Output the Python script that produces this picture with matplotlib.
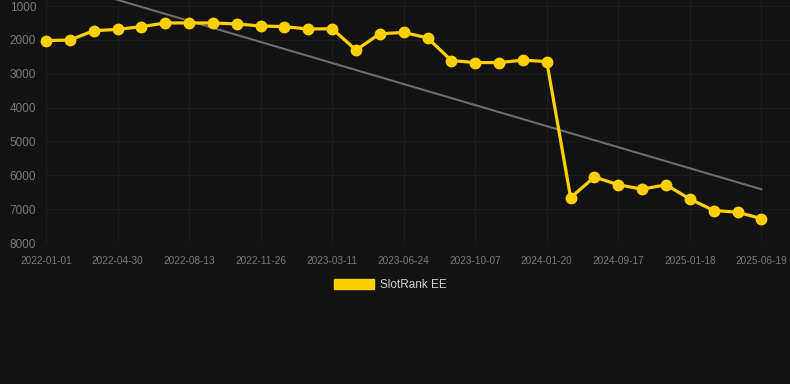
import numpy as np
import matplotlib.pyplot as plt
from matplotlib.patches import Patch

plt.rcParams['font.family'] = ['Liberation Sans', 'DejaVu Sans']

# rank per sample (lower is better)
ranks = [2020, 2005, 1730, 1690, 1610, 1500, 1500, 1500, 1530, 1590,
         1610, 1680, 1670, 2300, 1820, 1780, 1940, 2610, 2670, 2670,
         2600, 2640, 6660, 6050, 6280, 6410, 6280, 6700, 7040, 7090,
         7280]
tick_labels = ["2022-01-01", "2022-04-30", "2022-08-13", "2022-11-26",
               "2023-03-11", "2023-06-24", "2023-10-07", "2024-01-20",
               "2024-09-17", "2025-01-18", "2025-06-19"]
y_ticks = [1000, 2000, 3000, 4000, 5000, 6000, 7000, 8000]

bg = "#121212"
yellow = "#ffd000"

x = np.arange(len(ranks))
coef = np.polyfit(x, ranks, 1)
trend = np.polyval(coef, x)

fig = plt.figure(figsize=(7.9, 3.84), dpi=100, facecolor=bg)
ax = fig.add_axes([46/790, 1 - 243/384, 1 - 46/790, 243/384])
ax.set_facecolor(bg)

ax.plot(x, trend, color="#6e6e6e", lw=1.5, zorder=2)
ax.plot(x, ranks, color=yellow, lw=2.3, marker="o", ms=7.5, zorder=3,
        clip_on=False)

ax.set_xlim(0, 31.2)
ax.set_ylim(8000, 822)
ax.set_xticks(x[::3])
ax.set_xticklabels(tick_labels)
ax.set_yticks(y_ticks)

ax.grid(True, color="#1c1c1c", lw=0.8)
ax.axhline(8000, color="#2a2a2a", lw=0.8, zorder=1)
for s in ax.spines.values():
    s.set_visible(False)
ax.tick_params(axis="x", length=0, pad=9, labelsize=7.2, colors="#7a7a7a")
ax.tick_params(axis="y", length=0, pad=7, labelsize=8.5, colors="#7a7a7a")

leg = fig.legend(handles=[Patch(color=yellow, label="SlotRank EE")],
                 loc="center", bbox_to_anchor=(390/790, 1 - 285/384),
                 frameon=False, fontsize=8.5, handlelength=3.4,
                 handleheight=0.95, handletextpad=0.5)
for t in leg.get_texts():
    t.set_color("#d0d0d0")

fig.savefig("out.png", facecolor=bg)
